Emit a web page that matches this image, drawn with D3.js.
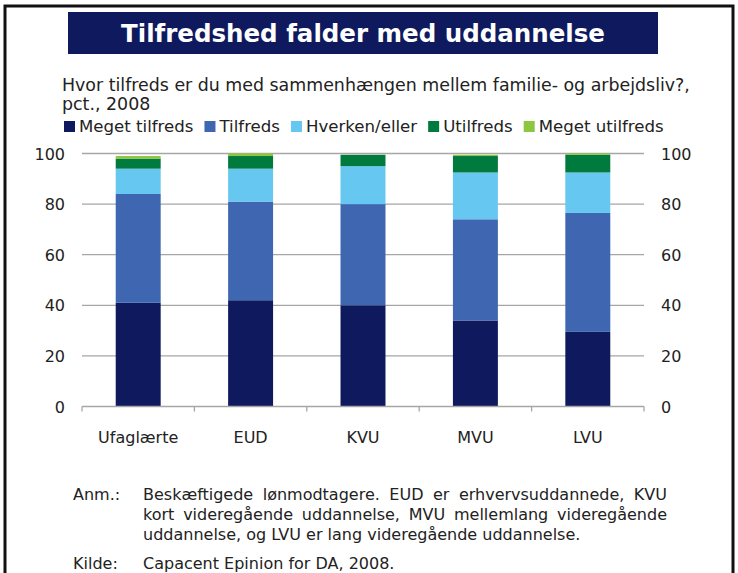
<!DOCTYPE html>
<html lang="da">
<head>
<meta charset="UTF-8">
<title>Tilfredshed falder med uddannelse</title>
<script src="https://d3js.org/d3.v7.min.js"></script>
<style>
  body { margin: 0; background: #fff; }
  svg text { font-family: "DejaVu Sans", Verdana, sans-serif; fill: #222; }
</style>
</head>
<body>
<svg width="738" height="573"></svg>
<script>
  const categories = ["Ufaglærte", "EUD", "KVU", "MVU", "LVU"];
  const seriesNames = ["Meget tilfreds", "Tilfreds", "Hverken/eller", "Utilfreds", "Meget utilfreds"];
  const megetTilfreds = [41, 42, 40, 34, 29.5];
  const tilfreds = [43, 39, 40, 40, 47];
  const hverken = [10, 13, 15, 18.5, 16];
  const utilfreds = [4, 5, 4.5, 6.5, 7];
  const megetUtilfreds = [1, 1, 0, 0.5, 0.5];
  const yTicks = [0, 20, 40, 60, 80, 100];
  const colors = ["#0f1a5e", "#3f66b0", "#66c8f0", "#007a3d", "#8dc63f"];

  const svg = d3.select("svg");
  const margin = { top: 153.5, right: 94, bottom: 166.5, left: 82 };
  const width = 738 - margin.left - margin.right;
  const height = 573 - margin.top - margin.bottom;
  const fs = "16px";

  // frame + title
  svg.append("rect").attr("x", 5).attr("y", 6).attr("width", 728).attr("height", 600)
    .attr("fill", "none").attr("stroke", "#111").attr("stroke-width", 3);
  svg.append("rect").attr("x", 68).attr("y", 12).attr("width", 590).attr("height", 42)
    .attr("fill", "#0f1a5e");
  svg.append("text").attr("x", 363).attr("y", 42).attr("text-anchor", "middle")
    .style("fill", "#fff").style("font-weight", "bold").style("font-size", "24.5px")
    .text("Tilfredshed falder med uddannelse");

  svg.append("text").attr("x", 62).attr("y", 91).style("font-size", "17.4px")
    .text("Hvor tilfreds er du med sammenhængen mellem familie- og arbejdsliv?,");
  svg.append("text").attr("x", 62).attr("y", 110).style("font-size", "17.4px")
    .text("pct., 2008");

  // legend
  let lx = 64;
  seriesNames.forEach((name, i) => {
    svg.append("rect").attr("x", lx).attr("y", 121).attr("width", 11).attr("height", 11)
      .attr("fill", colors[i]);
    const t = svg.append("text").attr("x", lx + 15).attr("y", 132).style("font-size", "16.6px").text(name);
    lx += 15 + t.node().getComputedTextLength() + 11;
  });

  const g = svg.append("g").attr("transform", `translate(${margin.left},${margin.top})`);

  const x = d3.scaleBand().domain(categories).range([0, width]).paddingInner(0.6).paddingOuter(0.3);
  const xb = d3.scaleBand().domain(categories).range([0, width]);
  const y = d3.scaleLinear().domain([0, 100]).range([height, 0]);

  // gridlines
  g.append("g").selectAll("line").data(yTicks.filter(d => d > 0)).join("line")
    .attr("x1", 0).attr("x2", width).attr("y1", d => y(d)).attr("y2", d => y(d))
    .attr("stroke", "#a6a6a6").attr("stroke-width", 1.3);

  const rows = categories.map((c, i) => ({
    cat: c, "Meget tilfreds": megetTilfreds[i], "Tilfreds": tilfreds[i], "Hverken/eller": hverken[i],
    "Utilfreds": utilfreds[i], "Meget utilfreds": megetUtilfreds[i]
  }));
  const stacked = d3.stack().keys(seriesNames)(rows);

  g.append("g").selectAll("g").data(stacked).join("g")
    .attr("fill", (d, i) => colors[i])
    .selectAll("rect").data(d => d).join("rect")
    .attr("x", d => x(d.data.cat))
    .attr("y", d => y(d[1]))
    .attr("width", x.bandwidth())
    .attr("height", d => y(d[0]) - y(d[1]));

  // x axis
  const xAxis = g.append("g").attr("transform", `translate(0,${height})`);
  xAxis.append("line").attr("x1", 0).attr("x2", width).attr("stroke", "#a6a6a6").attr("stroke-width", 1.3);
  xAxis.selectAll("line.tick").data([...categories.map(c => xb(c)), width]).join("line")
    .attr("class", "tick").attr("x1", d => d).attr("x2", d => d).attr("y1", 0).attr("y2", 5)
    .attr("stroke", "#a6a6a6").attr("stroke-width", 1.3);
  xAxis.selectAll("text").data(categories).join("text")
    .attr("x", d => xb(d) + xb.bandwidth() / 2).attr("y", 36)
    .attr("text-anchor", "middle").style("font-size", fs).text(d => d);

  // y labels both sides
  g.append("g").selectAll("text").data(yTicks).join("text")
    .attr("x", -17).attr("y", d => y(d) + 6).attr("text-anchor", "end")
    .style("font-size", fs).text(d => d);
  g.append("g").selectAll("text").data(yTicks).join("text")
    .attr("x", width + 17).attr("y", d => y(d) + 6).attr("text-anchor", "start")
    .style("font-size", fs).text(d => d);

  // notes
  const noteLines = [
    ["Beskæftigede lønmodtagere. EUD er erhvervsuddannede, KVU", true],
    ["kort videregående uddannelse, MVU mellemlang videregående", true],
    ["uddannelse, og LVU er lang videregående uddannelse.", false]
  ];
  svg.append("text").attr("x", 73).attr("y", 500).style("font-size", fs).text("Anm.:");
  noteLines.forEach(([line, justify], i) => {
    const yy = 500 + i * 20;
    if (!justify) {
      svg.append("text").attr("x", 143).attr("y", yy).style("font-size", fs).text(line);
      return;
    }
    const words = line.split(" ");
    const nodes = words.map(w => svg.append("text").attr("y", yy).style("font-size", fs).text(w));
    const widths = nodes.map(n => n.node().getComputedTextLength());
    const gap = (667 - 143 - d3.sum(widths)) / (words.length - 1);
    let px = 143;
    nodes.forEach((n, k) => { n.attr("x", px); px += widths[k] + gap; });
  });
  svg.append("text").attr("x", 73).attr("y", 569).style("font-size", fs).text("Kilde:");
  svg.append("text").attr("x", 143).attr("y", 569).style("font-size", fs).text("Capacent Epinion for DA, 2008.");
</script>
</body>
</html>
